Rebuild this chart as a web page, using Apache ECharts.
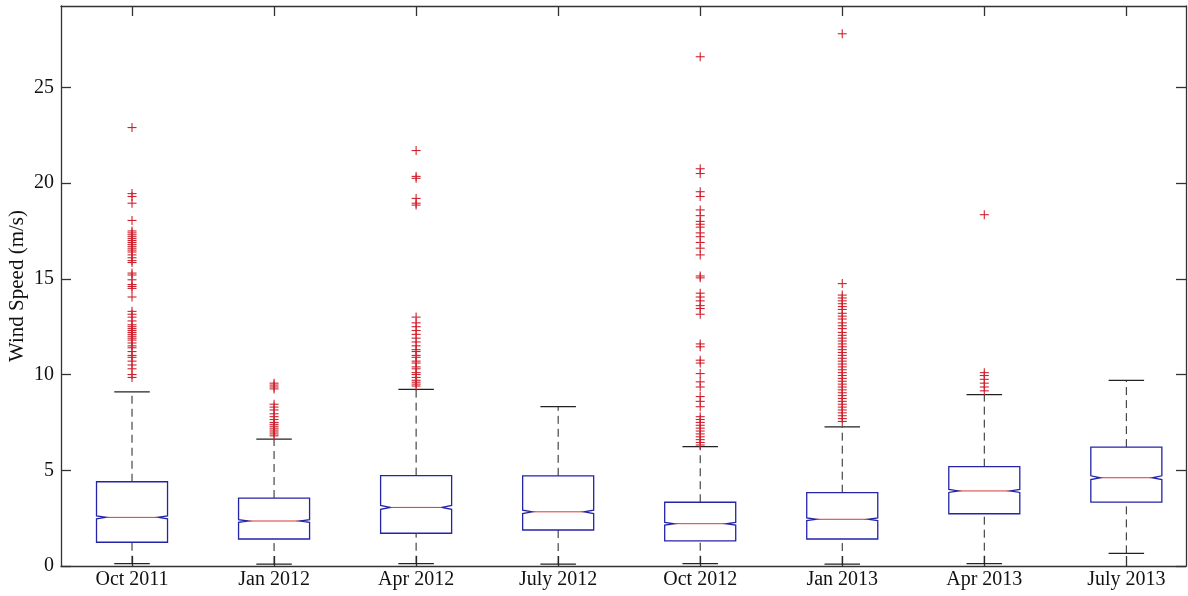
<!DOCTYPE html>
<html>
<head>
<meta charset="utf-8">
<script src="https://cdn.jsdelivr.net/npm/echarts@6/dist/echarts.min.js"></script>
<style>
  html, body { margin: 0; padding: 0; background: #fff; }
  #chart { width: 1188px; height: 596px; }
</style>
</head>
<body>
<div id="chart"></div>
<script>
// Monthly wind speed distributions (m/s), notched box plots
const categories = ['Oct 2011', 'Jan 2012', 'Apr 2012', 'July 2012', 'Oct 2012', 'Jan 2013', 'Apr 2013', 'July 2013'];
const whiskerLow  = [0.12, 0.10, 0.12, 0.10, 0.12, 0.10, 0.12, 0.66];
const quartile1   = [1.24, 1.41, 1.71, 1.88, 1.31, 1.41, 2.73, 3.34];
const medians     = [2.54, 2.35, 3.06, 2.83, 2.21, 2.44, 3.92, 4.61];
const quartile3   = [4.40, 3.55, 4.72, 4.71, 3.33, 3.83, 5.19, 6.21];
const whiskerHigh = [9.09, 6.63, 9.23, 8.32, 6.23, 7.27, 8.95, 9.70];
// half-height of the median notch (m/s)
const notchHalf   = [0.08, 0.07, 0.10, 0.09, 0.07, 0.07, 0.08, 0.10];

const outliersOct2011 = [22.9, 19.45, 19.3, 18.95, 18.05, 17.5, 17.4, 17.3, 17.2, 17.1, 17.0, 16.9, 16.8, 16.7, 16.6, 16.5, 16.4, 16.25, 16.1, 15.95, 15.85, 15.3, 15.2, 14.95, 14.7, 14.6, 14.5, 14.05, 13.3, 13.15, 13.0, 12.8, 12.6, 12.5, 12.4, 12.3, 12.2, 12.1, 12.0, 11.9, 11.8, 11.65, 11.5, 11.4, 11.2, 11.0, 10.9, 10.7, 10.5, 10.3, 10.0, 9.85];
const outliersJan2012 = [9.55, 9.45, 9.35, 9.25, 8.45, 8.3, 8.15, 7.95, 7.8, 7.65, 7.5, 7.4, 7.3, 7.2, 7.1, 7.0, 6.9, 6.8];
const outliersApr2012 = [21.7, 20.35, 20.25, 19.2, 18.95, 18.85, 13.0, 12.7, 12.5, 12.3, 12.1, 11.9, 11.7, 11.5, 11.3, 11.2, 11.0, 10.9, 10.7, 10.6, 10.4, 10.3, 10.1, 10.0, 9.85, 9.7, 9.6, 9.5, 9.4];
const outliersJul2012 = [];
const outliersOct2012 = [26.6, 20.75, 20.5, 19.55, 19.3, 18.6, 18.3, 18.0, 17.85, 17.7, 17.4, 17.2, 16.9, 16.6, 16.25, 15.15, 15.05, 14.25, 14.05, 13.85, 13.6, 13.45, 13.15, 11.6, 11.45, 10.75, 10.6, 10.05, 9.62, 9.35, 8.85, 8.6, 8.32, 7.8, 7.65, 7.5, 7.35, 7.2, 7.05, 6.9, 6.75, 6.6, 6.45, 6.32];
const outliersJan2013 = [27.8, 14.75, 14.15, 14.0, 13.85, 13.7, 13.55, 13.4, 13.2, 13.05, 12.9, 12.7, 12.55, 12.4, 12.2, 12.05, 11.9, 11.75, 11.6, 11.45, 11.3, 11.15, 11.0, 10.85, 10.7, 10.55, 10.4, 10.25, 10.1, 9.95, 9.8, 9.65, 9.5, 9.35, 9.2, 9.05, 8.9, 8.75, 8.6, 8.45, 8.3, 8.15, 8.0, 7.85, 7.7, 7.55];
const outliersApr2013 = [18.35, 10.1, 9.95, 9.75, 9.55, 9.35, 9.15];
const outliersJul2013 = [];
const outlierGroups = [outliersOct2011, outliersJan2012, outliersApr2012, outliersJul2012,
                       outliersOct2012, outliersJan2013, outliersApr2013, outliersJul2013];

const yTicks = [0, 5, 10, 15, 20, 25];

const boxData = categories.map((c, i) => [i + 1, whiskerLow[i], quartile1[i], medians[i], quartile3[i], whiskerHigh[i], notchHalf[i]]);
const outlierData = [];
outlierGroups.forEach((g, i) => g.forEach(v => outlierData.push([i + 1, v])));

const BOX_BLUE = '#2424a8';
const MEDIAN_RED = '#d63a3a';
const WHISKER = '#222222';
const OUTLIER_RED = '#d0222e';
const FONT = '"Liberation Serif", "DejaVu Serif", serif';

function renderBox(params, api) {
  const x = api.value(0);
  const lo = api.value(1), q1 = api.value(2), md = api.value(3), q3 = api.value(4), hi = api.value(5), nh = api.value(6);
  const halfBox = 0.25, halfCap = 0.125, notchIn = 0.068;
  const p = (dx, v) => api.coord([x + dx, v]);
  const box = [
    p(-halfBox, q1), p(-halfBox, md - nh), p(-halfBox + notchIn, md), p(-halfBox, md + nh),
    p(-halfBox, q3), p(halfBox, q3), p(halfBox, md + nh), p(halfBox - notchIn, md),
    p(halfBox, md - nh), p(halfBox, q1)
  ];
  const line = (a, b, style) => ({
    type: 'line',
    shape: { x1: a[0], y1: a[1], x2: b[0], y2: b[1] },
    style: style
  });
  const dashed = { stroke: WHISKER, lineWidth: 1, lineDash: [8, 5] };
  const solid = { stroke: WHISKER, lineWidth: 1.3 };
  return {
    type: 'group',
    children: [
      line(p(0, q3), p(0, hi), dashed),
      line(p(0, lo), p(0, q1), dashed),
      line(p(-halfCap, hi), p(halfCap, hi), solid),
      line(p(-halfCap, lo), p(halfCap, lo), solid),
      {
        type: 'polygon',
        shape: { points: box },
        style: { fill: 'none', stroke: BOX_BLUE, lineWidth: 1.3 }
      },
      line(p(-halfBox + notchIn, md), p(halfBox - notchIn, md), { stroke: MEDIAN_RED, lineWidth: 1 })
    ]
  };
}

function renderOutlier(params, api) {
  const c = api.coord([api.value(0), api.value(1)]);
  const r = 4.5;
  const st = { stroke: OUTLIER_RED, lineWidth: 1.1 };
  return {
    type: 'group',
    children: [
      { type: 'line', shape: { x1: c[0] - r, y1: c[1], x2: c[0] + r, y2: c[1] }, style: st },
      { type: 'line', shape: { x1: c[0], y1: c[1] - r, x2: c[0], y2: c[1] + r }, style: st }
    ]
  };
}

const chart = echarts.init(document.getElementById('chart'), null, { renderer: 'canvas' });
const tickPositions = categories.map((c, i) => i + 1);
const axisLineStyle = { color: '#333', width: 1.3 };

chart.setOption({
  backgroundColor: '#ffffff',
  animation: false,
  grid: { left: 61, right: 2, top: 6, bottom: 30, containLabel: false, outerBoundsMode: 'none' },
  xAxis: [
    {
      type: 'value', min: 0.5, max: 8.42, position: 'bottom',
      splitLine: { show: false },
      axisLine: { show: true, onZero: false, lineStyle: axisLineStyle },
      axisTick: { show: true, inside: true, length: 10, customValues: tickPositions, lineStyle: axisLineStyle },
      axisLabel: {
        customValues: tickPositions, margin: 4,
        formatter: v => categories[Math.round(v) - 1] || '',
        fontFamily: FONT, fontSize: 20, color: '#111'
      }
    },
    {
      type: 'value', min: 0.5, max: 8.42, position: 'top',
      splitLine: { show: false },
      axisLine: { show: true, onZero: false, lineStyle: axisLineStyle },
      axisTick: { show: true, inside: true, length: 10, customValues: tickPositions, lineStyle: axisLineStyle },
      axisLabel: { show: false }
    }
  ],
  yAxis: [
    {
      type: 'value', min: 0, max: 29.25, interval: 5, position: 'left',
      name: 'Wind Speed (m/s)', nameLocation: 'middle', nameGap: 33, nameMoveOverlap: false,
      nameTextStyle: { fontFamily: FONT, fontSize: 21, color: '#111' },
      splitLine: { show: false },
      axisLine: { show: true, onZero: false, lineStyle: axisLineStyle },
      axisTick: { show: true, inside: true, length: 10, customValues: yTicks, lineStyle: axisLineStyle },
      axisLabel: { customValues: yTicks, margin: 7, fontFamily: FONT, fontSize: 20, color: '#111' }
    },
    {
      type: 'value', min: 0, max: 29.25, interval: 5, position: 'right',
      splitLine: { show: false },
      axisLine: { show: true, onZero: false, lineStyle: axisLineStyle },
      axisTick: { show: true, inside: true, length: 10, customValues: yTicks, lineStyle: axisLineStyle },
      axisLabel: { show: false }
    }
  ],
  series: [
    {
      type: 'custom', name: 'box', xAxisIndex: 0, yAxisIndex: 0,
      renderItem: renderBox,
      encode: { x: 0, y: [1, 2, 3, 4, 5] },
      data: boxData, clip: false, silent: true
    },
    {
      type: 'custom', name: 'outliers', xAxisIndex: 0, yAxisIndex: 0,
      renderItem: renderOutlier,
      encode: { x: 0, y: 1 },
      data: outlierData, clip: false, silent: true
    }
  ]
});
</script>
</body>
</html>
